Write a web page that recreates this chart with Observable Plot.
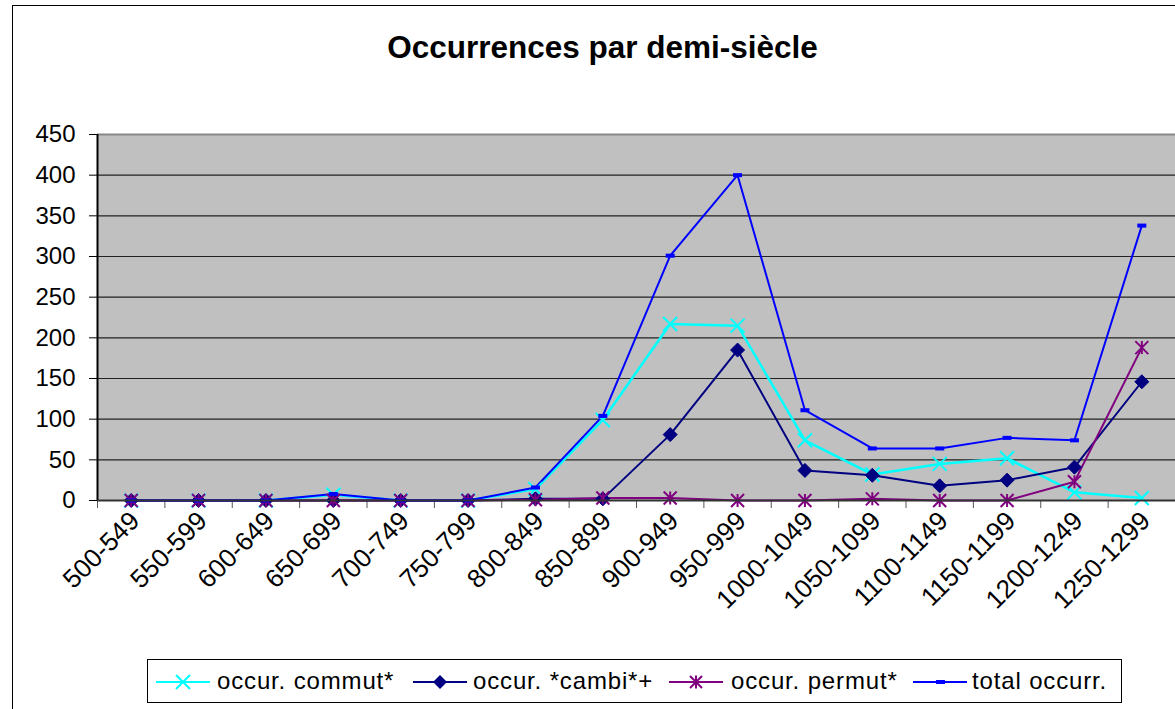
<!DOCTYPE html>
<html><head><meta charset="utf-8">
<script src="https://cdn.jsdelivr.net/npm/d3@7"></script>
<script src="https://cdn.jsdelivr.net/npm/@observablehq/plot@0.6"></script>
<style>
body{margin:0;background:#fff;overflow:hidden;font-family:"Liberation Sans",Arial,sans-serif}
#wrap{position:relative;width:1175px;height:709px;overflow:hidden;background:#fff}
#frame{position:absolute;left:12px;top:5px;width:1300px;height:900px;border:1px solid #000;box-sizing:border-box}
#title{position:absolute;left:0;top:32px;width:1205px;text-align:center;font-weight:bold;font-size:31.5px;line-height:31.5px;color:#000;white-space:nowrap}
#chart{position:absolute;left:0;top:0}
#legend{position:absolute;left:147px;top:659px;width:975px;height:44px;border:1px solid #000;box-sizing:border-box;background:#fff}
.lg-s{position:absolute;top:671px;width:54px;height:22px}
.lg-t{position:absolute;top:659px;height:44px;line-height:44px;font-size:24px;letter-spacing:0.85px;color:#000;white-space:nowrap}
</style></head>
<body><div id="wrap">
<div id="frame"></div>
<div id="title">Occurrences par demi-siècle</div>
<div id="chart"></div>
<div id="legend"></div>
</div>
<script>
const categories = ["500-549","550-599","600-649","650-699","700-749","750-799","800-849","850-899","900-949","950-999","1000-1049","1050-1099","1100-1149","1150-1199","1200-1249","1250-1299"];
const commut = [0,0,0,7,0,0,14,99,217,215,74,32,45,52,10,3];
const cambi  = [0,0,0,0,0,0,2,2,81,185,37,31,18,25,41,146];
const permut = [0,0,0,0,0,0,1,3,3,0,0,2,0,0,23,188];
const total  = [0,0,0,8,0,0,16,104,301,400,111,64,64,77,74,338];
const seriesNames = ["occur. commut*","occur. *cambi*+","occur. permut*","total occurr."];
const seriesColors = ["#00ffff","#000080","#800080","#0000ff"];
const yTicks = [0,50,100,150,200,250,300,350,400,450];

function rows(vals){ return vals.map((v,i)=>({x:i+0.5, y:v, cat:categories[i]})); }

const rad = s => Math.sqrt(s/Math.PI);
const symX = {draw(c,s){const r=rad(s);c.moveTo(-r,-r);c.lineTo(r,r);c.moveTo(-r,r);c.lineTo(r,-r);}};
const symDiamond = {draw(c,s){const r=rad(s);c.moveTo(0,-r);c.lineTo(r,0);c.lineTo(0,r);c.lineTo(-r,0);c.closePath();}};
const symStar = {draw(c,s){const r=rad(s);c.moveTo(-r,-r);c.lineTo(r,r);c.moveTo(-r,r);c.lineTo(r,-r);c.moveTo(0,-r);c.lineTo(0,r);}};
const symDash = {draw(c,s){const r=rad(s);c.rect(-r,-r*0.45,2*r,r*0.9);}};

const data = [commut,cambi,permut,total].map(rows);
const labelRows = categories.map((c,i)=>({x:i+0.5, y:0, label:c}));
const bounds = d3.range(categories.length+1);

const chart = Plot.plot({
  width:1175, height:640,
  marginLeft:97, marginRight:0, marginTop:134, marginBottom:140,
  x:{domain:[0,categories.length], axis:null},
  y:{domain:[0,450], axis:null},
  style:{fontFamily:"'Liberation Sans', Arial, sans-serif", fontSize:"24px", color:"#000", background:"transparent"},
  marks:[
    Plot.frame({fill:"#c0c0c0", stroke:null}),
    Plot.ruleY(yTicks.filter(v=>v>0 && v<450), {stroke:"#222", strokeWidth:1.2}),
    Plot.ruleY([450], {stroke:"#888", strokeWidth:2}),
    Plot.axisY({ticks:yTicks, tickSize:8, tickPadding:14, label:null, stroke:"#000", fontSize:24}),
    Plot.axisX({ticks:bounds, tickSize:8, tickFormat:()=>"", label:null, stroke:"#555"}),
    Plot.text(labelRows, {x:"x", y:"y", text:"label", rotate:-45, textAnchor:"end", lineAnchor:"middle",
      fontSize:26, dx:4, dy:16, fill:"#000"}),
    Plot.line(data[0], {x:"x", y:"y", stroke:seriesColors[0], strokeWidth:2.5}),
    Plot.line(data[1], {x:"x", y:"y", stroke:seriesColors[1], strokeWidth:2}),
    Plot.line(data[2], {x:"x", y:"y", stroke:seriesColors[2], strokeWidth:2}),
    Plot.line(data[3], {x:"x", y:"y", stroke:seriesColors[3], strokeWidth:2}),
    Plot.dot(data[0], {x:"x", y:"y", symbol:symX, r:7, stroke:seriesColors[0], fill:"none", strokeWidth:2}),
    Plot.dot(data[1], {x:"x", y:"y", symbol:symDiamond, r:7, fill:seriesColors[1], stroke:seriesColors[1], strokeWidth:1}),
    Plot.dot(data[2], {x:"x", y:"y", symbol:symStar, r:6.5, stroke:seriesColors[2], fill:"none", strokeWidth:2}),
    Plot.dot(data[3], {x:"x", y:"y", symbol:symDash, r:4.5, fill:seriesColors[3], stroke:"none"}),
    Plot.ruleX([0], {stroke:"#000", strokeWidth:2}),
    Plot.ruleY([0], {stroke:"#333", strokeWidth:2})
  ]
});
document.getElementById("chart").appendChild(chart);

// legend
const wrap = document.getElementById("wrap");
const lgSample = [156,413,669,913];
const lgText = [217,473,731,972];
const markerSvg = [
  c=>`<path d="M20,4L34,18M20,18L34,4" stroke="${c}" stroke-width="2" fill="none"/>`,
  c=>`<path d="M27,4L34,11L27,18L20,11Z" fill="${c}"/>`,
  c=>`<path d="M21,5L33,17M21,17L33,5M27,4.5L27,17.5" stroke="${c}" stroke-width="2" fill="none"/>`,
  c=>`<rect x="23" y="9" width="9" height="4" fill="${c}"/>`
];
seriesNames.forEach((name,i)=>{
  const s = document.createElement("div");
  s.className="lg-s"; s.style.left=lgSample[i]+"px";
  s.innerHTML = `<svg width="54" height="22"><line x1="0" x2="54" y1="11" y2="11" stroke="${seriesColors[i]}" stroke-width="2"/>${markerSvg[i](seriesColors[i])}</svg>`;
  wrap.appendChild(s);
  const t = document.createElement("div");
  t.className="lg-t"; t.style.left=lgText[i]+"px"; t.textContent=name;
  wrap.appendChild(t);
});
</script>
</body></html>
